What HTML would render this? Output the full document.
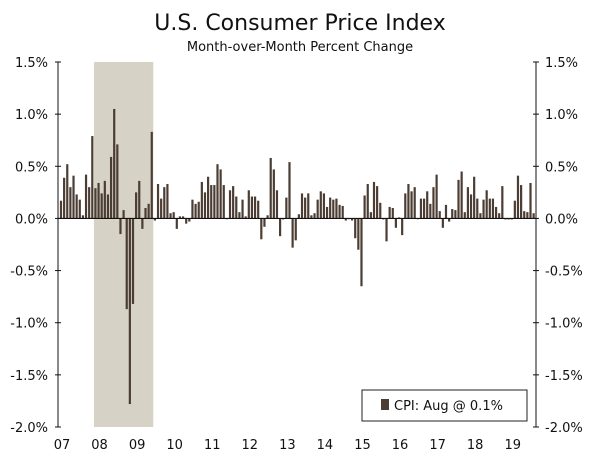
<!DOCTYPE html>
<html><head><meta charset="utf-8"><style>
body{margin:0;background:#fff;width:600px;height:457px;overflow:hidden;font-family:"DejaVu Sans","Liberation Sans",sans-serif}
</style></head><body>
<svg id="chart" width="600" height="457" xmlns="http://www.w3.org/2000/svg">
<text x="300" y="30" text-anchor="middle" font-size="22" fill="#111">U.S. Consumer Price Index</text>
<text x="300" y="51" text-anchor="middle" font-size="13" fill="#111">Month-over-Month Percent Change</text>
<rect id="shade" fill="#d6d2c6"/>
<g id="bars"></g>
<g id="axes"></g>
<g>
<rect x="362" y="390" width="165" height="31" fill="#fff" stroke="#222" stroke-width="1"/>
<rect x="381" y="399" width="8" height="11" fill="#4b3d33"/>
<text x="394" y="410" font-size="13" fill="#111">CPI: Aug @ 0.1%</text>
</g>
</svg>
<script>
const values=[0.17,0.39,0.52,0.30,0.41,0.23,0.18,0.03,0.42,0.30,0.79,0.29,
0.34,0.24,0.36,0.23,0.59,1.05,0.71,-0.15,0.08,-0.87,-1.78,-0.82,
0.25,0.36,-0.10,0.10,0.14,0.83,-0.02,0.33,0.19,0.30,0.33,0.05,
0.06,-0.10,0.02,0.02,-0.05,-0.03,0.18,0.14,0.16,0.35,0.25,0.40,
0.32,0.32,0.52,0.47,0.32,0.00,0.27,0.31,0.21,0.06,0.18,0.02,
0.27,0.21,0.21,0.17,-0.20,-0.08,0.03,0.58,0.47,0.27,-0.17,-0.01,
0.20,0.54,-0.28,-0.21,0.04,0.24,0.20,0.24,0.03,0.05,0.18,0.26,
0.24,0.11,0.20,0.18,0.19,0.13,0.12,-0.02,0.00,-0.02,-0.19,-0.30,
-0.65,0.22,0.33,0.06,0.35,0.31,0.15,-0.01,-0.22,0.11,0.10,-0.09,
0.01,-0.16,0.24,0.33,0.26,0.30,0.00,0.19,0.19,0.26,0.14,0.30,
0.42,0.07,-0.09,0.13,-0.03,0.09,0.08,0.37,0.45,0.06,0.30,0.23,
0.40,0.19,0.05,0.18,0.27,0.19,0.19,0.11,0.05,0.31,-0.01,-0.01,
-0.01,0.17,0.41,0.32,0.07,0.06,0.34,0.05];
const yTicks=[1.5,1.0,0.5,0.0,-0.5,-1.0,-1.5,-2.0];
const yTickLabels=["1.5%","1.0%","0.5%","0.0%","-0.5%","-1.0%","-1.5%","-2.0%"];
const xLabels=["07","08","09","10","11","12","13","14","15","16","17","18","19"];
const recession=[11,29];
const NS="http://www.w3.org/2000/svg";
const L=58,R=536,T=62,B=427,ymin=-2.0,ymax=1.5;
const y=v=>B-(v-ymin)/(ymax-ymin)*(B-T);
const step=3.13;
const x=i=>61+step*i;
function mk(tag,attrs,parent){const e=document.createElementNS(NS,tag);for(const k in attrs)e.setAttribute(k,attrs[k]);parent.appendChild(e);return e;}
const sh=document.getElementById('shade');
sh.setAttribute('x',x(recession[0])-1.5);sh.setAttribute('y',T);
sh.setAttribute('width',x(recession[1])-x(recession[0])+3);sh.setAttribute('height',B-T);
const bars=document.getElementById('bars');
values.forEach((v,i)=>{const y0=y(0),y1=y(v);
const r=mk('rect',{x:x(i)-1.1,y:Math.min(y0,y1),width:2.2,height:Math.max(0.8,Math.abs(y1-y0)),fill:'#4b3d33'},bars);

});
const ax=document.getElementById('axes');
mk('line',{x1:L,y1:T,x2:L,y2:B,stroke:'#111','stroke-width':1},ax);
mk('line',{x1:R,y1:T,x2:R,y2:B,stroke:'#111','stroke-width':1},ax);
mk('line',{x1:L,y1:y(0),x2:R,y2:y(0),stroke:'#111','stroke-width':1.2},ax);
yTicks.forEach((t,k)=>{const yy=y(t);
mk('line',{x1:L-3,y1:yy,x2:L+3,y2:yy,stroke:'#111'},ax);
mk('line',{x1:R-3,y1:yy,x2:R+3,y2:yy,stroke:'#111'},ax);
const a=mk('text',{x:48,y:yy+5,'text-anchor':'end','font-size':13,fill:'#111'},ax);a.textContent=yTickLabels[k];


const b=mk('text',{x:545,y:yy+5,'font-size':13,fill:'#111'},ax);b.textContent=yTickLabels[k];

});
xLabels.forEach((s,k)=>{const t=mk('text',{x:x(k*12)+1,y:449,'text-anchor':'middle','font-size':13,fill:'#111'},ax);t.textContent=s;

});
</script>
</body></html>
